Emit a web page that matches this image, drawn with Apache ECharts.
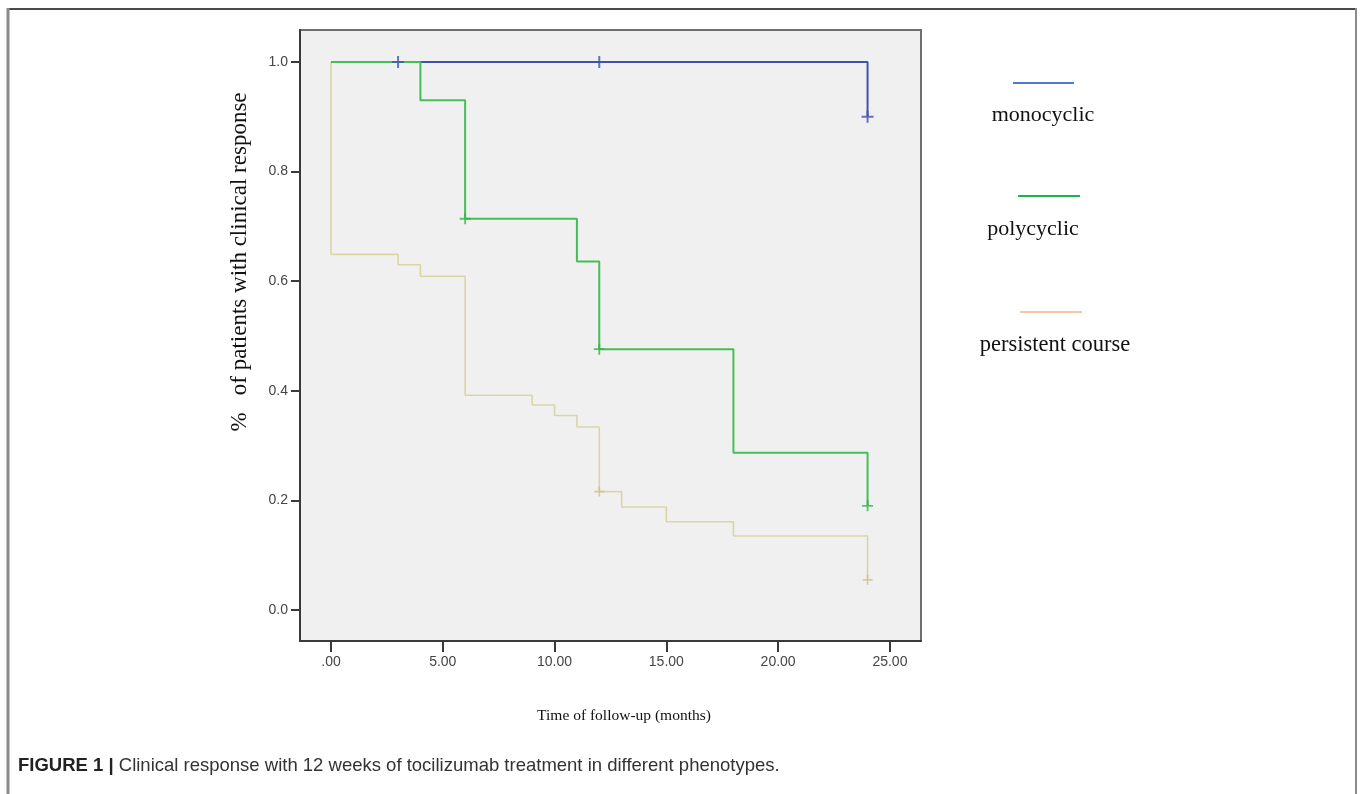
<!DOCTYPE html>
<html>
<head>
<meta charset="utf-8">
<script src="https://cdn.jsdelivr.net/npm/echarts@6/dist/echarts.min.js"></script>
<style>
html,body{margin:0;padding:0;background:#fff;}
#chart{width:1360px;height:794px;}
</style>
</head>
<body>
<div id="chart"></div>
<script>
// ---- data ----
const monoTimes = [0, 24];
const monoSurv  = [1.0, 0.90];
const monoCensorTimes = [3, 12, 24];
const monoCensorSurv  = [1.0, 1.0, 0.90];

const polyTimes = [0, 4, 6, 11, 12, 18, 24];
const polySurv  = [1.0, 0.930, 0.714, 0.636, 0.476, 0.287, 0.190];
const polyCensorTimes = [6, 12, 24];
const polyCensorSurv  = [0.714, 0.476, 0.190];

const persTimes = [0, 0, 3, 4, 6, 9, 10, 11, 12, 13, 15, 18, 24];
const persSurv  = [1.0, 0.649, 0.630, 0.609, 0.392, 0.374, 0.355, 0.334, 0.216, 0.188, 0.161, 0.135, 0.055];
const persCensorTimes = [12, 24];
const persCensorSurv  = [0.216, 0.055];

const xTicks = [0, 5, 10, 15, 20, 25];
const yTicks = [0, 0.2, 0.4, 0.6, 0.8, 1.0];

const seriesNames = ['monocyclic', 'polycyclic', 'persistent course'];
const yTitle = '%   of patients with clinical response';
const xTitle = 'Time of follow-up (months)';
const captionBold = 'FIGURE 1 | ';
const captionText = 'Clinical response with 12 weeks of tocilizumab treatment in different phenotypes.';

// ---- helpers ----
const zip = (a, b) => a.map((v, i) => [v, b[i]]);
const plus = 'path://M5,0 L7,0 L7,5 L12,5 L12,7 L7,7 L7,12 L5,12 L5,7 L0,7 L0,5 L5,5 Z';

const lineColors = ['#4152ac', '#45be55', '#d9d6a6'];
const legendColors = ['#4a7dcb', '#22b14c', '#f7c7a2'];

const chart = echarts.init(document.getElementById('chart'), null, {renderer: 'canvas'});

const serif = '"Liberation Serif", "Times New Roman", serif';
const sans = '"Liberation Sans", Arial, sans-serif';

const option = {
  backgroundColor: '#ffffff',
  animation: false,
  grid: {
    left: 300, top: 30, width: 621, height: 611,
    show: true, backgroundColor: '#f0f0f0', borderColor: '#6e6e6e', borderWidth: 2
  },
  xAxis: {
    type: 'value',
    min: -1.386, max: 26.39,
    splitLine: {show: false},
    axisLine: {show: true, onZero: false, lineStyle: {color: '#3a3a3a', width: 2}},
    axisTick: {show: true, length: 11, lineStyle: {color: '#3a3a3a', width: 2}, customValues: xTicks},
    axisLabel: {
      customValues: xTicks, margin: 14, color: '#454545', fontSize: 14, fontFamily: sans,
      formatter: v => v === 0 ? '.00' : v.toFixed(2)
    }
  },
  yAxis: {
    type: 'value',
    min: -0.0566, max: 1.0584,
    splitLine: {show: false},
    axisLine: {show: true, onZero: false, lineStyle: {color: '#3a3a3a', width: 2}},
    axisTick: {show: true, length: 9, lineStyle: {color: '#3a3a3a', width: 2}, customValues: yTicks},
    axisLabel: {
      customValues: yTicks, margin: 12, color: '#454545', fontSize: 14, fontFamily: sans,
      formatter: v => v.toFixed(1)
    }
  },
  series: [
    {
      name: seriesNames[2], type: 'line', step: 'end', symbol: 'none', z: 2,
      data: zip(persTimes, persSurv),
      lineStyle: {color: lineColors[2], width: 1.6}
    },
    {
      name: seriesNames[0], type: 'line', step: 'end', symbol: 'none', z: 3,
      data: zip(monoTimes, monoSurv),
      lineStyle: {color: lineColors[0], width: 2}
    },
    {
      name: seriesNames[1], type: 'line', step: 'end', symbol: 'none', z: 4,
      data: zip(polyTimes, polySurv),
      lineStyle: {color: lineColors[1], width: 2}
    },
    {
      type: 'scatter', symbol: plus, symbolSize: 10, z: 5,
      data: zip(persCensorTimes, persCensorSurv),
      itemStyle: {color: '#c9c38a'}
    },
    {
      type: 'scatter', symbol: plus, symbolSize: 12, z: 5,
      data: zip(monoCensorTimes, monoCensorSurv),
      itemStyle: {color: lineColors[0]}
    },
    {
      type: 'scatter', symbol: plus, symbolSize: 11, z: 6,
      data: zip(polyCensorTimes, polyCensorSurv),
      itemStyle: {color: '#35b447'}
    }
  ],
  graphic: [
    // outer figure frame
    {type: 'line', shape: {x1: 7, y1: 9, x2: 1356, y2: 9}, style: {stroke: '#4a4a4a', lineWidth: 2}},
    {type: 'line', shape: {x1: 8, y1: 8, x2: 8, y2: 794}, style: {stroke: '#8a8a8a', lineWidth: 3}},
    {type: 'line', shape: {x1: 1356, y1: 8, x2: 1356, y2: 794}, style: {stroke: '#8a8a8a', lineWidth: 2}},
    // y-axis title
    {type: 'text', x: 240, y: 262, rotation: Math.PI / 2,
      style: {text: yTitle, font: '23px ' + serif, fill: '#111', textAlign: 'center', textVerticalAlign: 'middle'}},
    // x-axis title
    {type: 'text', x: 624, y: 716,
      style: {text: xTitle, font: '15.5px ' + serif, fill: '#111', textAlign: 'center', textVerticalAlign: 'middle'}},
    // legend
    {type: 'line', shape: {x1: 1013, y1: 83, x2: 1074, y2: 83}, style: {stroke: legendColors[0], lineWidth: 2}},
    {type: 'text', x: 1043, y: 115, style: {text: seriesNames[0], font: '22px ' + serif, fill: '#111', textAlign: 'center', textVerticalAlign: 'middle'}},
    {type: 'line', shape: {x1: 1018, y1: 196, x2: 1080, y2: 196}, style: {stroke: legendColors[1], lineWidth: 2}},
    {type: 'text', x: 1033, y: 229, style: {text: seriesNames[1], font: '22px ' + serif, fill: '#111', textAlign: 'center', textVerticalAlign: 'middle'}},
    {type: 'line', shape: {x1: 1020, y1: 312, x2: 1082, y2: 312}, style: {stroke: legendColors[2], lineWidth: 2}},
    {type: 'text', x: 1055, y: 345, style: {text: seriesNames[2], font: '22.5px ' + serif, fill: '#111', textAlign: 'center', textVerticalAlign: 'middle'}},
    // caption
    {type: 'text', x: 18, y: 766,
      style: {
        text: '{b|' + captionBold + '}{n|' + captionText + '}',
        textVerticalAlign: 'middle',
        rich: {
          b: {font: 'bold 18.5px ' + sans, fill: '#222'},
          n: {font: '18.5px ' + sans, fill: '#333'}
        }
      }}
  ]
};
chart.setOption(option);
</script>
</body>
</html>
